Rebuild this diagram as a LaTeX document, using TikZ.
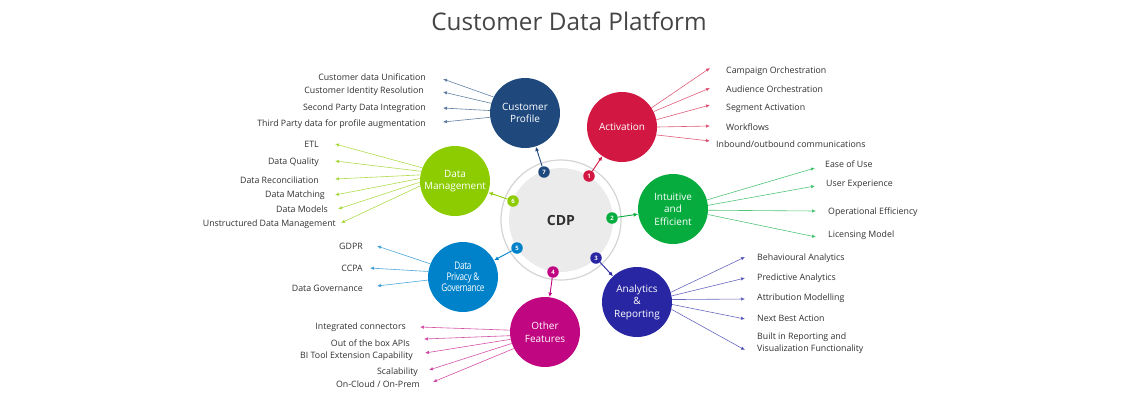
\documentclass[tikz,border=0pt]{standalone}
\usepackage{fontspec}
\setmainfont{Open Sans}
\newfontfamily\narrowfont[FakeStretch=0.78,LetterSpace=-3]{Open Sans}
\usetikzlibrary{arrows.meta,positioning}
\definecolor{profileblue}{RGB}{31,73,125}
\definecolor{activred}{RGB}{210,24,66}
\definecolor{easygreen}{RGB}{6,172,62}
\definecolor{analyticblue}{RGB}{40,38,162}
\definecolor{featmagenta}{RGB}{192,6,128}
\definecolor{privblue}{RGB}{0,130,202}
\definecolor{mgmtgreen}{RGB}{140,204,0}
\definecolor{textgray}{RGB}{48,48,48}

\begin{document}
\begin{tikzpicture}[x=1pt, y=-1pt,
  hub/.style={circle, fill=#1, minimum size=70pt, inner sep=0pt, text=white,
    align=center, font=\fontsize{10}{12.5}\selectfont},
  badge/.style={circle, fill=#1, minimum size=11.5pt, inner sep=0pt, text=white,
    font=\fontsize{6}{6}\selectfont\bfseries},
  lft/.style={anchor=east, inner sep=0pt, text=textgray, font=\fontsize{8.8}{11}\selectfont},
  rgt/.style={anchor=west, inner sep=0pt, text=textgray, font=\fontsize{8.8}{11.5}\selectfont, align=left},
  spoke/.style={draw=#1!70, line width=0.6pt, -{Latex[length=4pt,width=3.5pt,fill=#1]}},
  link/.style={draw=#1, line width=0.9pt, -{Latex[length=4.5pt,width=4pt]}}]
  \useasboundingbox (0,0) rectangle (1140,400);

  % Title
  \node[text=textgray!90, font=\fontsize{24.3}{28}\selectfont] (title) at (569,21) {Customer Data Platform};

  % Centre
  \node[circle, draw=black!17, line width=1.2pt, minimum size=120pt] (ring) at (561,220) {};
  \node[circle, fill=black!8, minimum size=104pt, text=textgray,
    font=\fontsize{14}{16}\selectfont\bfseries] (cdp) at (561,220) {CDP};

  % Hubs
  \node[hub=profileblue] (cp) at (525,113) {Customer\\Profile};
  \node[hub=activred] (act) at (622,127) {Activation};
  \node[hub=easygreen] (ie) at (673,209) {Intuitive\\and\\Efficient};
  \node[hub=analyticblue] (ar) at (637,302) {Analytics\\\&\\Reporting};
  \node[hub=featmagenta] (of) at (545,332) {Other\\Features};
  \node[hub=privblue, font=\fontsize{10.5}{11}\narrowfont] (dpg) at (463,277) {Data\\Privacy \&\\Governance};
  \node[hub=mgmtgreen] (dm) at (455,181) {Data\\Management};

  % Badges on the ring
  \node[badge=activred] (b1) at (589,176) {1};
  \node[badge=easygreen] (b2) at (612,218) {2};
  \node[badge=analyticblue] (b3) at (596,258) {3};
  \node[badge=featmagenta] (b4) at (553,272) {4};
  \node[badge=privblue] (b5) at (517,248) {5};
  \node[badge=mgmtgreen] (b6) at (513,201) {6};
  \node[badge=profileblue] (b7) at (544,172) {7};
  \draw[link=activred] (b1) -- (act);
  \draw[link=easygreen] (b2) -- (ie);
  \draw[link=analyticblue] (b3) -- (ar);
  \draw[link=featmagenta] (b4) -- (of);
  \draw[link=privblue] (b5) -- (dpg);
  \draw[link=mgmtgreen] (b6) -- (dm);
  \draw[link=profileblue] (b7) -- (cp);

  % Customer Profile
  \node[lft] (cp1) at (426,77) {Customer data Unification};
  \node[lft] (cp2) at (424,91) {Customer Identity Resolution};
  \node[lft] (cp3) at (426,108) {Second Party Data Integration};
  \node[lft] (cp4) at (426,124) {Third Party data for profile augmentation};
  \draw[spoke=profileblue] (cp.153) -- ([xshift=17pt,yshift=-2pt]cp1.east);
  \draw[spoke=profileblue] (cp.164) -- ([xshift=19pt,yshift=-1pt]cp2.east);
  \draw[spoke=profileblue] (cp.176) -- ([xshift=17pt]cp3.east);
  \draw[spoke=profileblue] (cp.187) -- ([xshift=17pt,yshift=2pt]cp4.east);

  % Data Management
  \node[lft] (dm1) at (319,144) {ETL};
  \node[lft] (dm2) at (319,162) {Data Quality};
  \node[lft] (dm3) at (319,180) {Data Reconciliation};
  \node[lft] (dm4) at (325,195) {Data Matching};
  \node[lft] (dm5) at (328,209) {Data Models};
  \node[lft] (dm6) at (336,224) {Unstructured Data Management};
  \draw[spoke=mgmtgreen] (dm.158) -- ([xshift=16pt]dm1.east);
  \draw[spoke=mgmtgreen] (dm.164) -- ([xshift=16pt,yshift=1pt]dm2.east);
  \draw[spoke=mgmtgreen] (dm.170) -- ([xshift=16pt,yshift=1pt]dm3.east);
  \draw[spoke=mgmtgreen] (dm.176) -- ([xshift=10pt]dm4.east);
  \draw[spoke=mgmtgreen] (dm.182) -- ([xshift=10pt]dm5.east);
  \draw[spoke=mgmtgreen] (dm.188) -- ([xshift=5pt,yshift=1pt]dm6.east);

  % Data Privacy & Governance
  \node[lft] (dp1) at (363,246) {GDPR};
  \node[lft] (dp2) at (363,268) {CCPA};
  \node[lft] (dp3) at (363,288) {Data Governance};
  \draw[spoke=privblue] (dpg.158) -- ([xshift=14pt]dp1.east);
  \draw[spoke=privblue] (dpg.171) -- ([xshift=7pt]dp2.east);
  \draw[spoke=privblue] (dpg.185) -- ([xshift=14pt,yshift=2pt]dp3.east);

  % Other Features
  \node[lft] (of1) at (406,327) {Integrated connectors};
  \node[lft] (of2) at (410,343) {Out of the box APIs};
  \node[lft] (of3) at (413,356) {BI Tool Extension Capability};
  \node[lft] (of4) at (418,372) {Scalability};
  \node[lft] (of5) at (420,384) {On-Cloud / On-Prem};
  \draw[spoke=featmagenta] (of.177) -- ([xshift=14pt]of1.east);
  \draw[spoke=featmagenta] (of.186) -- ([xshift=14pt,yshift=4pt]of2.east);
  \draw[spoke=featmagenta] (of.192) -- ([xshift=12pt,yshift=3pt]of3.east);
  \draw[spoke=featmagenta] (of.199) -- ([xshift=11pt,yshift=2pt]of4.east);
  \draw[spoke=featmagenta] (of.208) -- ([xshift=13pt,yshift=2pt]of5.east);

  % Activation
  \node[rgt] (ac1) at (726,71) {Campaign Orchestration};
  \node[rgt] (ac2) at (726,89) {Audience Orchestration};
  \node[rgt] (ac3) at (726,108) {Segment Activation};
  \node[rgt] (ac4) at (726,127) {Workflows};
  \node[rgt] (ac5) at (716,144) {Inbound/outbound communications};
  \draw[spoke=activred] (act.33) -- ([xshift=-16pt,yshift=3pt]ac1.west);
  \draw[spoke=activred] (act.26) -- ([xshift=-16pt,yshift=1pt]ac2.west);
  \draw[spoke=activred] (act.12) -- ([xshift=-16pt,yshift=3pt]ac3.west);
  \draw[spoke=activred] (act.0) -- ([xshift=-16pt,yshift=1pt]ac4.west);
  \draw[spoke=activred] (act.-13) -- ([xshift=-6pt,yshift=3pt]ac5.west);

  % Intuitive and Efficient
  \node[rgt] (ie1) at (825,164) {Ease of Use};
  \node[rgt] (ie2) at (826,184) {User Experience};
  \node[rgt] (ie3) at (828,212) {Operational Efficiency};
  \node[rgt] (ie4) at (828,235) {Licensing Model};
  \draw[spoke=easygreen] (ie.15) -- ([xshift=-10pt,yshift=-4pt]ie1.west);
  \draw[spoke=easygreen] (ie.6) -- ([xshift=-11pt,yshift=-2pt]ie2.west);
  \draw[spoke=easygreen] (ie.-2) -- ([xshift=-12pt,yshift=1pt]ie3.west);
  \draw[spoke=easygreen] (ie.-9) -- ([xshift=-12pt,yshift=-2pt]ie4.west);

  % Analytics & Reporting
  \node[rgt] (ar1) at (757,258) {Behavioural Analytics};
  \node[rgt] (ar2) at (757,278) {Predictive Analytics};
  \node[rgt] (ar3) at (757,298) {Attribution Modelling};
  \node[rgt] (ar4) at (757,318) {Next Best Action};
  \node[rgt] (ar5) at (757,343) {Built in Reporting and\\Visualization Functionality};
  \draw[spoke=analyticblue] (ar.16) -- ([xshift=-12pt,yshift=1pt]ar1.west);
  \draw[spoke=analyticblue] (ar.10) -- ([xshift=-12pt]ar2.west);
  \draw[spoke=analyticblue] (ar.4) -- ([xshift=-12pt,yshift=-1pt]ar3.west);
  \draw[spoke=analyticblue] (ar.-4) -- ([xshift=-12pt,yshift=-1pt]ar4.west);
  \draw[spoke=analyticblue] (ar.-12) -- ([xshift=-12pt,yshift=-7pt]ar5.west);
\end{tikzpicture}
\end{document}
